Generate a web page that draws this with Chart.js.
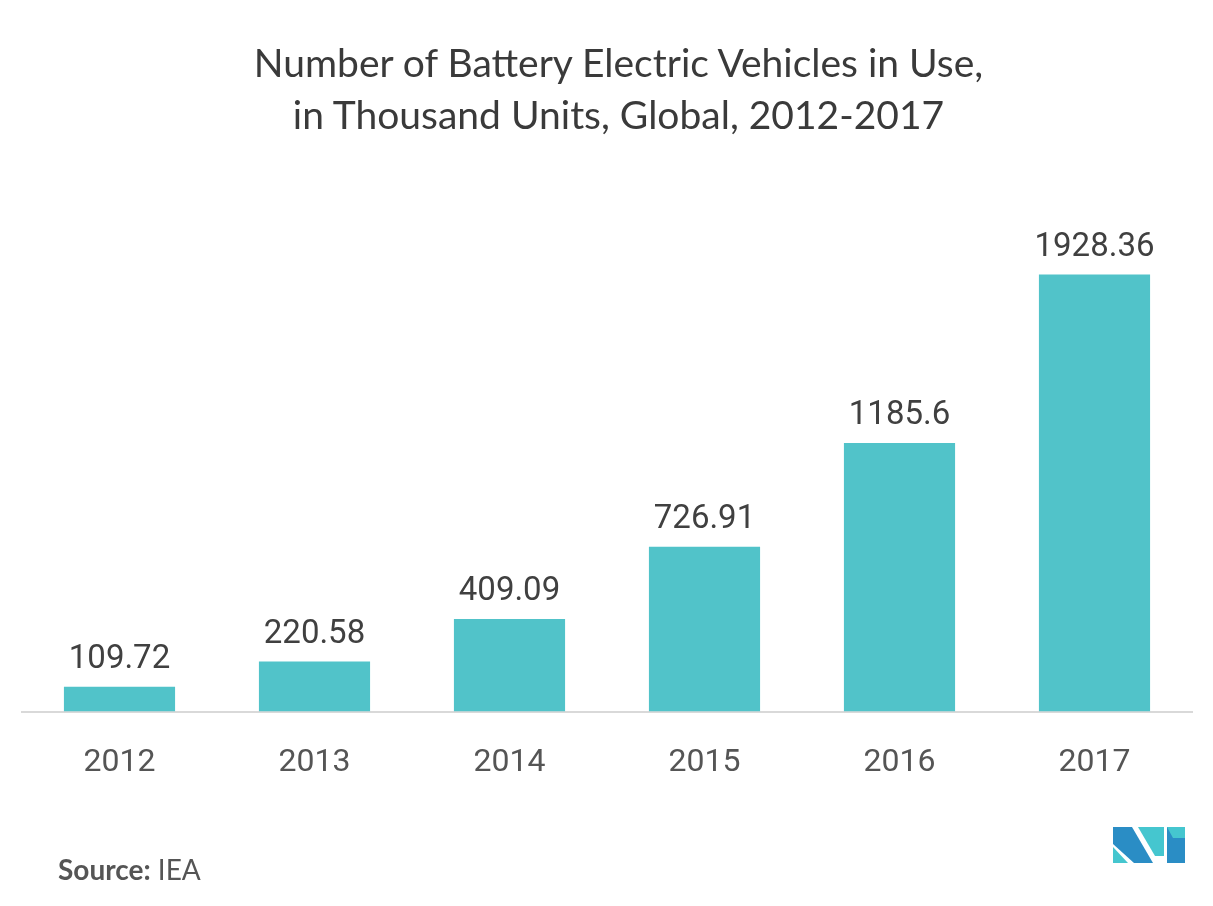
<!DOCTYPE html>
<html>
<head>
<meta charset="utf-8">
<script src="https://cdn.jsdelivr.net/npm/chart.js@4"></script>
<style>
  html, body { margin: 0; padding: 0; background: #fff; }
  #wrap { position: relative; width: 1213px; height: 906px; overflow: hidden; }
  #title { position: absolute; left: 0; top: 36px; width: 1237px; text-align: center;
    font-family: Lato, "Open Sans", sans-serif; font-size: 39px; line-height: 52px; color: #3a3a3a; }
  #source { position: absolute; left: 58px; top: 852px; font-family: Lato, sans-serif; font-size: 28px; color: #555; }
  #source b { font-weight: 700; }
  #logo { position: absolute; left: 1110px; top: 824px; }
  canvas { position: absolute; left: 0; top: 0; }
</style>
</head>
<body>
<div id="wrap">
  <canvas id="c" width="1213" height="906"></canvas>
  <div id="title">Number of Battery Electric Vehicles in Use,<br>in Thousand Units, Global, 2012-2017</div>
  <div id="source"><b>Source:</b> IEA</div>
  <svg id="logo" width="80" height="45" viewBox="0 0 80 45">
    <polygon points="3,3 22,3 43,39 24,39 3,20" fill="#2a8dc5"/>
    <polygon points="3,23 3,39 18,39" fill="#45c6cf"/>
    <polygon points="28,3 54,3 54,32 45,32" fill="#45c6cf"/>
    <polygon points="57,3 75,3 75,39 57,39 57,10" fill="#2a8dc5"/>
    <polygon points="57,3 75,3 75,14 63,14" fill="#45c6cf"/>
  </svg>
</div>
<script>
const categories = ["2012", "2013", "2014", "2015", "2016", "2017"];
const values = [109.72, 220.58, 409.09, 726.91, 1185.6, 1928.36];
const valueLabels = ["109.72", "220.58", "409.09", "726.91", "1185.6", "1928.36"];

const labelPlugin = {
  id: 'valueLabels',
  afterDatasetsDraw(chart) {
    const ctx = chart.ctx;
    const meta = chart.getDatasetMeta(0);
    ctx.save();
    ctx.font = '33px Roboto, sans-serif';
    ctx.fillStyle = '#404040';
    ctx.textAlign = 'center';
    ctx.textBaseline = 'alphabetic';
    meta.data.forEach((bar, i) => {
      ctx.fillText(valueLabels[i], bar.x, bar.y - 19);
    });
    ctx.restore();
  }
};

new Chart(document.getElementById('c'), {
  type: 'bar',
  data: {
    labels: categories,
    datasets: [{
      data: values,
      backgroundColor: '#51c3c9',
      barPercentage: 0.57,
      categoryPercentage: 1.0
    }]
  },
  options: {
    responsive: false,
    animation: false,
    layout: { padding: { top: 145, left: 22, right: 21, bottom: 92 } },
    plugins: { legend: { display: false }, title: { display: false }, tooltip: { enabled: false } },
    scales: {
      x: {
        grid: { display: false, drawTicks: false },
        border: { display: true, color: '#d9d9d9', width: 2 },
        ticks: { font: { family: 'Roboto', size: 32 }, color: '#555', padding: 32 }
      },
      y: {
        display: false,
        min: 0,
        max: 2500
      }
    }
  },
  plugins: [labelPlugin]
});
</script>
</body>
</html>
